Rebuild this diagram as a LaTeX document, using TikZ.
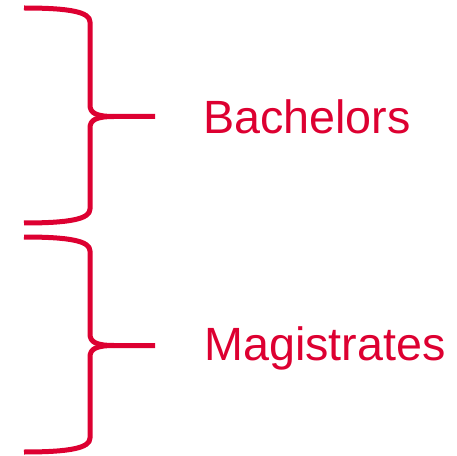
\documentclass[tikz,border=0pt]{standalone}
\usepackage{fontspec}
\setmainfont{Liberation Sans}
\usepackage{xcolor}
\usepackage{tikz}
\usetikzlibrary{calc}

\definecolor{bracered}{RGB}{221,0,49}

\begin{document}
\begin{tikzpicture}[x=0.75pt,y=0.75pt,yscale=-1,xscale=1]
  \tikzset{
    brace line/.style={draw=bracered, line width=3.75pt, line cap=butt, line join=round},
    group label/.style={anchor=base west, inner sep=0pt, text=bracered, font=\fontsize{35}{42}\selectfont}
  }
  \useasboundingbox (0,0) rectangle (457,456);
  % upper brace
  \coordinate (tipA) at (155,116.5);
  \draw [brace line] (24,8) .. controls (70,8) and (90,12) .. (90,22) -- (90,105)
     .. controls (90,113) and (96,116.5) .. (114,116.5) -- (tipA);
  \draw [brace line] (24,223) .. controls (70,223) and (90,219) .. (90,209) -- (90,128)
     .. controls (90,120) and (96,116.5) .. (114,116.5);
  % lower brace
  \coordinate (tipB) at (155,345.5);
  \draw [brace line] (24,237) .. controls (70,237) and (90,241) .. (90,251) -- (90,334)
     .. controls (90,342) and (96,345.5) .. (114,345.5) -- (tipB);
  \draw [brace line] (24,452) .. controls (70,452) and (90,448) .. (90,438) -- (90,357)
     .. controls (90,349) and (96,345.5) .. (114,345.5);
  % labels
  \node [group label] (bachelors) at (203,133.3) {Bachelors};
  \node [group label] (magistrates) at (204,360) {Magistrates};
\end{tikzpicture}
\end{document}
